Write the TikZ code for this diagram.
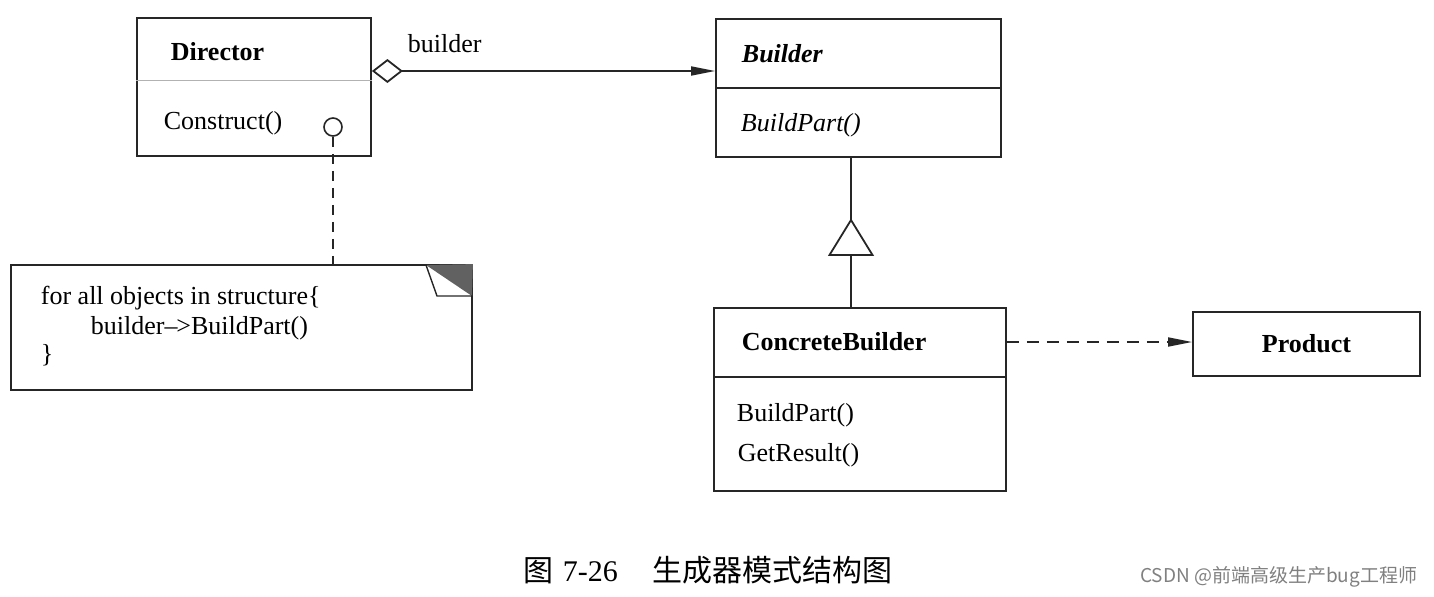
\documentclass[tikz,border=0pt]{standalone}
\usepackage{fontspec}
\setmainfont{Liberation Serif}
\newfontfamily\cjk{Noto Sans CJK SC}
\usetikzlibrary{arrows.meta}
\tikzset{tipfill/.tip={Triangle[length=12pt,width=4.5pt]},
  tipdia/.tip={Diamond[open,length=15.5pt,width=12pt]}}
\begin{document}
\begin{tikzpicture}[x=0.5pt,y=-0.5pt,line width=0.9pt,draw=black!85,
  cls/.style={draw,rectangle,inner sep=0pt},
  txt/.style={anchor=base west,inner sep=0pt,font=\fontsize{13}{15}\selectfont},
  dashline/.style={dash pattern=on 5pt off 3.5pt},
  dashdep/.style={dash pattern=on 6pt off 4pt}]
\useasboundingbox (0,0) rectangle (1434,596);
% class boxes
\node[cls,minimum width=117pt,minimum height=69pt] (director) at (254,87) {};
\node[cls,minimum width=142.5pt,minimum height=69pt] (builder) at (858.5,88) {};
\node[cls,minimum width=146pt,minimum height=91.5pt] (concrete) at (860,399.5) {};
\node[cls,minimum width=113.5pt,minimum height=32pt,font=\fontsize{13}{15}\selectfont\bfseries] (product) at (1306.5,344) {Product};
\node[cls,minimum width=230.5pt,minimum height=62.5pt] (note) at (241.5,327.5) {};
% separators
\coordinate (dsep) at (0,80);
\coordinate (csep) at (0,377);
\draw[black!30,line width=0.5pt] (director.west |- dsep) -- (director.east |- dsep);
\draw (builder.west) -- (builder.east);
\draw (concrete.west |- csep) -- (concrete.east |- csep);
% texts
\node[txt,font=\fontsize{13}{15}\selectfont\bfseries] (tdir) at (170,60) {Director};
\node[txt] (tcons) at (163,129) {Construct()};
\node[txt] (tlbl) at (407,52) {builder};
\node[txt,font=\fontsize{13}{15}\selectfont\bfseries\itshape] (tbld) at (741,62) {Builder};
\node[txt,font=\fontsize{13}{15}\selectfont\itshape] (tbp) at (740,131) {BuildPart()};
\node[txt,font=\fontsize{13}{15}\selectfont\bfseries] (tcb) at (741,350) {ConcreteBuilder};
\node[txt] (tcbp) at (736,421) {BuildPart()};
\node[txt] (tgr) at (737,461) {GetResult()};
\node[txt] (tn1) at (40,304) {for all objects in structure\{};
\node[txt] (tn2) at (90,334) {builder\textendash\kern-0.6pt>BuildPart()};
\node[txt] (tn3) at (40,362) {\}};
% note fold
\fill[black!62] (426,265) -- (note.north east) -- (472,296) -- cycle;
\draw[line width=0.7pt] (426,265) -- (437,296) -- (472,296);
% note anchor circle and dashed link
\node[draw,circle,minimum size=9pt,inner sep=0pt,line width=0.8pt] (dot) at (333,127) {};
\draw[dashline] (dot.south) -- (dot.south |- note.north);
% association builder
\coordinate (ay) at (0,71);
\draw[tipdia-tipfill] (director.east |- ay) -- (builder.west |- ay);
% generalization
\coordinate (apex) at (851,220);
\coordinate (tbase) at (851,255);
\draw (builder.south -| apex) -- (apex);
\draw[fill=white,line join=miter] (apex) -- ++(21.5,35) -- ++(-43,0) -- cycle;
\draw (tbase) -- (concrete.north -| tbase);
% dependency to product
\coordinate (py) at (0,342);
\draw[dashdep,-tipfill] (concrete.east |- py) -- (product.west |- py);
% caption
\node[anchor=west,inner sep=0pt,font=\fontsize{15}{17}\selectfont] (cap) at (523,570)
  {{\cjk 图}\hspace{4.5pt}7-26\hspace{17.5pt}{\cjk 生成器模式结构图}};
\node[anchor=east,inner sep=0pt,text=black!50,font=\cjk\fontsize{9.5}{11}\selectfont] (wm) at (1418,577)
  {CSDN @前端高级生产bug工程师};
\end{tikzpicture}
\end{document}
